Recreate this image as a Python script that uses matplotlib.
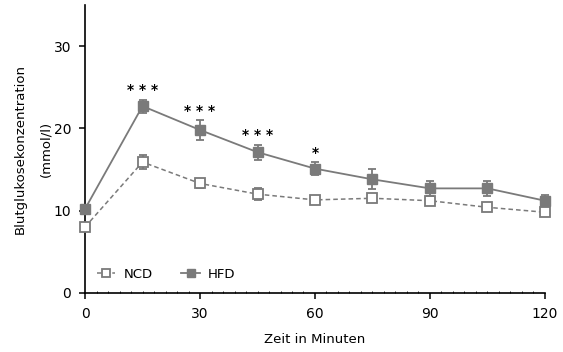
import matplotlib
matplotlib.use("Agg")
import matplotlib.pyplot as plt
from matplotlib.lines import Line2D
from matplotlib.ticker import MultipleLocator

time_min = [0, 15, 30, 45, 60, 75, 90, 105, 120]
ncd_mean = [8.0, 15.9, 13.3, 12.0, 11.3, 11.5, 11.2, 10.4, 9.8]
ncd_sem = [0.3, 0.8, 0.6, 0.7, 0.5, 0.5, 0.4, 0.3, 0.3]
hfd_mean = [10.2, 22.7, 19.8, 17.1, 15.1, 13.8, 12.7, 12.7, 11.2]
hfd_sem = [0.4, 0.8, 1.2, 0.9, 0.8, 1.2, 0.9, 0.9, 0.7]
signif = {15: "* * *", 30: "* * *", 45: "* * *", 60: "*"}

gray = "#7a7a7a"
plt.rcParams["font.family"] = ["DejaVu Sans"]

fig = plt.figure(figsize=(5.63, 3.52), dpi=100)
ax = fig.add_axes([0.151, 0.168, 0.817, 0.818])

ncd_style = dict(color=gray, ls=(0, (3, 2)), lw=1.1, marker="s", mfc="white", mec=gray, mew=1.3)
hfd_style = dict(color=gray, ls="-", lw=1.3, marker="s", mfc=gray, mec=gray)

ax.errorbar(time_min, ncd_mean, yerr=ncd_sem, ms=6.5, capsize=3, elinewidth=1.3,
            capthick=1.3, clip_on=False, zorder=3, **ncd_style)
ax.errorbar(time_min, hfd_mean, yerr=hfd_sem, ms=7, capsize=3, elinewidth=1.3,
            capthick=1.3, clip_on=False, zorder=4, **hfd_style)

for t, s in signif.items():
    i = time_min.index(t)
    ax.text(t, hfd_mean[i] + hfd_sem[i] + 0.3, s, ha="center", va="bottom",
            fontsize=10, fontweight="bold")

ax.set_xlim(0, 120)
ax.set_ylim(0, 35)
ax.set_xticks([0, 30, 60, 90, 120])
ax.set_yticks([0, 10, 20, 30])
ax.xaxis.set_minor_locator(MultipleLocator(3))
ax.tick_params(axis="x", which="minor", length=1.5, width=0.6, direction="in")
ax.tick_params(axis="both", which="major", length=4, width=1.1, labelsize=10, pad=6)
for side in ("top", "right"):
    ax.spines[side].set_visible(False)
for side in ("left", "bottom"):
    ax.spines[side].set_linewidth(1.2)

ax.set_xlabel("Zeit in Minuten", fontsize=9.5, labelpad=9)
ax.set_ylabel("Blutglukosekonzentration\n(mmol/l)", fontsize=9.5, labelpad=1, linespacing=2.2)

handles = [Line2D([], [], ms=5.5, label="NCD", **ncd_style),
           Line2D([], [], ms=5.5, label="HFD", **hfd_style)]
ax.legend(handles=handles, loc="lower left", ncol=2, frameon=False, fontsize=9.5,
          handlelength=1.4, columnspacing=2.2, handletextpad=0.6, bbox_to_anchor=(0.0, 0.0))

fig.savefig("out.png", dpi=100)
